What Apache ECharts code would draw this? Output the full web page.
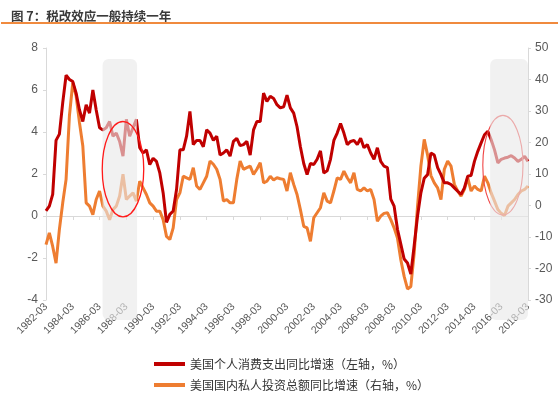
<!DOCTYPE html>
<html><head><meta charset="utf-8">
<script src="https://cdn.jsdelivr.net/npm/echarts@6/dist/echarts.min.js"></script>
<style>html,body{margin:0;padding:0;background:#fff}#c{width:558px;height:395px}</style>
</head><body><div id="c"></div><script>
const titleText = '图 7：税改效应一般持续一年';
const seriesNames = ['美国个人消费支出同比增速（左轴，%）', '美国国内私人投资总额同比增速（右轴，%）'];
const startYear = 1982, endYear = 2018;
const quarterMonths = ['03', '06', '09', '12'];
const categories = [];
for (let y = startYear; y <= endYear; y++) {
  for (const m of quarterMonths) { categories.push(y + '-' + m); if (y === endYear) break; }
}
const leftAxis = { min: -4, max: 8, interval: 2 };
const rightAxis = { min: -30, max: 50, interval: 10 };

const pce = [0.24,0.47,1.03,3.6,3.9,5.4,6.7,6.5,6.4,5.85,
  5.05,4.5,5.3,4.9,6.0,5.05,4.2,4.1,4.2,4.5,
  3.8,3.95,3.55,2.85,4.6,3.8,4.2,4.6,3.25,3.0,
  3.15,2.45,2.75,2.6,2.05,1.1,-0.3,0.08,0.24,1.26,
  3.15,3.15,3.8,4.98,3.4,3.6,3.6,3.3,4.1,3.95,
  3.6,3.8,2.9,3.0,3.15,2.85,3.55,3.7,3.35,3.4,
  3.55,2.9,4.1,4.5,4.5,5.85,5.45,5.7,5.6,5.3,
  5.15,5.2,5.75,5.15,4.9,4.25,3.3,2.5,1.97,2.5,
  2.45,2.7,3.1,2.05,2.15,2.7,3.6,3.95,4.4,3.95,
  3.4,3.55,3.6,3.4,3.7,3.25,3.4,3.0,2.7,3.25,
  2.6,2.37,2.3,0.8,0.47,-0.63,-1.34,-2.05,-2.24,-2.76,
  -1.4,0,1.1,1.8,1.97,3.0,2.9,2.3,1.97,1.58,
  1.58,1.5,1.34,1.18,1.03,1.34,1.9,1.93,2.6,3.08,
  3.48,3.87,4.03,3.63,3.15,2.53,2.7,2.76,2.8,2.87,
  2.76,2.6,2.7,2.84,2.6];
const investment = [-12.4,-8.7,-13,-18.3,-7.6,0.85,8.3,28.5,39,34.8,
  26.3,18.9,0.85,-0.2,-2.9,1.9,4.6,-0.2,-1.8,-4.5,
  -1.3,-0.2,3.0,9.9,1.9,3.0,4.0,1.4,7.7,5.6,
  3.5,0.85,-0.2,-1.8,-1.8,-4.5,-9.8,-10.8,-7.1,1.9,
  4.0,9.3,8.8,8.3,12,6.2,5.1,7.2,9.3,14.1,
  13.1,11.5,8.3,1.4,1.9,0.85,0.85,8.3,14.1,11.5,
  12,12.5,9.9,11.5,13.6,7.2,7.7,9.3,8.1,8.8,
  8.5,8.3,4.6,10.4,6.7,3.5,-1.3,-6.6,-7.1,-11.4,
  -3.9,-2.3,-0.7,4.0,1.4,0.85,4.6,8.8,8.3,10.9,
  8.8,7.2,10.4,5.1,4.6,5.6,4.6,5.1,1.9,-5.0,
  -3.4,-2.5,-2.3,-4.5,-7.1,-10.3,-17.2,-22.5,-26.5,-25.7,
  -15.1,-0.2,12.5,21,16,9.5,7.2,5.6,1.9,11.5,
  14.1,12.5,6.7,4.6,3.0,5.1,8.8,4.6,6.2,5.1,
  4.6,9.3,7.2,4.0,1.4,-1.3,-2.5,-3.2,-0.2,0.85,
  1.9,3.5,4.6,5.1,6.2];

const shadeRanges = [[16.9, 27.2], [132.7, 144]];
const ellipses = [
  { ci: 23, cv: 2.23, hq: 6.2, hv: 2.27, color: '#ff1a1a', width: 1.3, z: 120 },
  { ci: 136.5, cv: 2.42, hq: 6.0, hv: 2.37, color: '#f04545', width: 1.1, z: 60 }
];

const chart = echarts.init(document.getElementById('c'), null, { renderer: 'canvas' });
const axisGray = '#d9d9d9';
const labelColor = '#595959';
const font = '"Liberation Sans", Arial, "Noto Sans CJK SC", sans-serif';
const legendText = { fontSize: 12, color: '#333', fontFamily: '"Noto Sans CJK SC", sans-serif' };
chart.setOption({
  animation: false,
  textStyle: { fontFamily: font },
  title: { text: titleText, left: 6, top: 5, textStyle: { fontSize: 12.5, fontWeight: 'bold', color: '#3a3a3a', fontFamily: '"Noto Sans CJK SC", sans-serif' } },
  grid: { left: 46, right: 30, top: 48, bottom: 95, containLabel: false },
  legend: [
    { left: 149, top: 353, itemWidth: 31, itemHeight: 4, icon: 'rect', textStyle: legendText, data: [seriesNames[0]] },
    { left: 149, top: 374, itemWidth: 31, itemHeight: 4, icon: 'rect', textStyle: legendText, data: [seriesNames[1]] }
  ],
  xAxis: [
    { type: 'category', data: categories, boundaryGap: false, position: 'bottom',
      axisLine: { show: false, onZero: false }, axisTick: { show: false },
      axisLabel: { interval: 7, rotate: 45, fontSize: 10.5, color: labelColor, margin: 5 } },
    { type: 'category', data: categories, boundaryGap: false, position: 'bottom',
      axisLine: { show: true, onZero: true, onZeroAxisIndex: 0, lineStyle: { color: axisGray, width: 1 } },
      axisTick: { show: true, interval: 7, length: 4, lineStyle: { color: axisGray } },
      axisLabel: { show: false } }
  ],
  yAxis: [
    { type: 'value', min: leftAxis.min, max: leftAxis.max, interval: leftAxis.interval, position: 'left',
      axisLine: { show: true, lineStyle: { color: axisGray } }, axisTick: { show: true, length: 3, lineStyle: { color: axisGray } },
      splitLine: { show: false }, axisLabel: { fontSize: 12, color: labelColor, margin: 8 } },
    { type: 'value', min: rightAxis.min, max: rightAxis.max, interval: rightAxis.interval, position: 'right',
      axisLine: { show: true, lineStyle: { color: axisGray } }, axisTick: { show: true, length: 3, lineStyle: { color: axisGray } },
      splitLine: { show: false }, axisLabel: { fontSize: 12, color: labelColor, margin: 7 } }
  ],
  series: [
    { name: seriesNames[0], type: 'line', xAxisIndex: 0, yAxisIndex: 0, data: pce, symbol: 'none',
      lineStyle: { width: 3, color: '#c00000' }, itemStyle: { color: '#c00000' }, z: 3 },
    { name: seriesNames[1], type: 'line', xAxisIndex: 0, yAxisIndex: 1, data: investment, symbol: 'none',
      lineStyle: { width: 3, color: '#ee7d31' }, itemStyle: { color: '#ee7d31' }, z: 2 }
  ]
});

function px(i, v) { return chart.convertToPixel({ xAxisIndex: 0, yAxisIndex: 0 }, [i, v]); }
const p0 = px(0, 0), p1 = px(categories.length - 1, 0);
const step = (p1[0] - p0[0]) / (categories.length - 1);
const xAt = i => p0[0] + i * step;
const yAt = v => px(0, v)[1];
const gridBottom = yAt(leftAxis.min);
const graphics = [
  { type: 'rect', shape: { x: 1, y: 22, width: 557, height: 2 }, style: { fill: '#f08a3e' }, z: 10 }
];
shadeRanges.forEach(r => {
  const x1 = xAt(r[0]), x2 = xAt(r[1]);
  const top = yAt(7.48);
  graphics.push({ type: 'rect', shape: { x: x1, y: top, width: x2 - x1, height: gridBottom + 20 - top, r: 6 },
    style: { fill: 'rgba(232,232,232,0.62)' }, z: 100 });
});
ellipses.forEach(e => {
  const cx = xAt(e.ci), cy = yAt(e.cv);
  const rx = e.hq * step, ry = Math.abs(yAt(e.cv + e.hv) - cy);
  graphics.push({ type: 'ellipse', shape: { cx: cx, cy: cy, rx: rx, ry: ry },
    style: { fill: null, stroke: e.color, lineWidth: e.width }, z: e.z });
});
chart.setOption({ graphic: graphics });
</script></body></html>
